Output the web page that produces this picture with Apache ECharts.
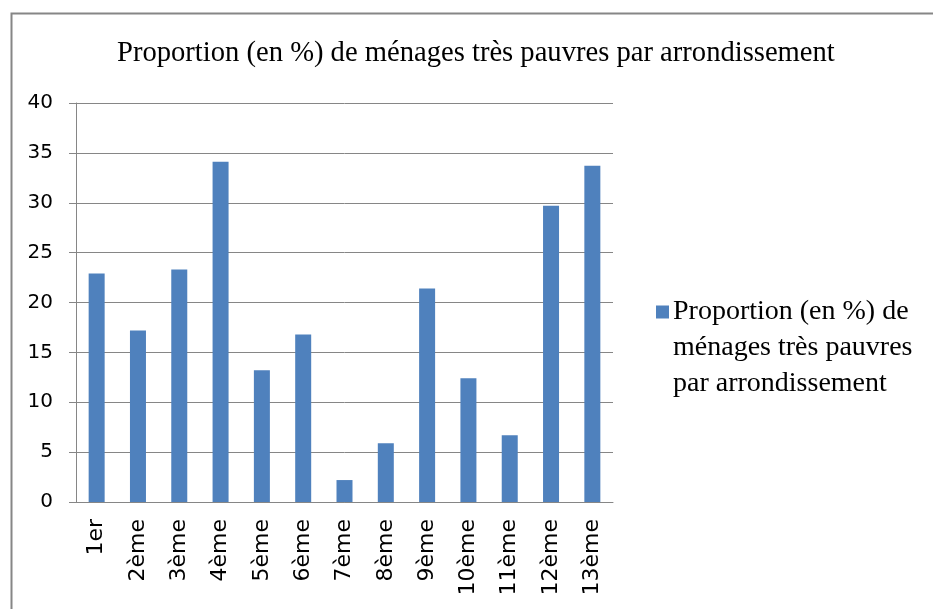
<!DOCTYPE html>
<html>
<head>
<meta charset="utf-8">
<script src="https://cdn.jsdelivr.net/npm/echarts@6/dist/echarts.min.js"></script>
<style>
  html, body { margin: 0; padding: 0; background: #fff; }
  #chart { width: 933px; height: 609px; }
</style>
</head>
<body>
<div id="chart"></div>
<script>
const titleText = 'Proportion (en %) de ménages très pauvres par arrondissement';
const categories = ['1er', '2ème', '3ème', '4ème', '5ème', '6ème', '7ème', '8ème', '9ème', '10ème', '11ème', '12ème', '13ème'];
const values = [22.9, 17.2, 23.3, 34.1, 13.2, 16.8, 2.2, 5.9, 21.4, 12.4, 6.7, 29.7, 33.7];
const legendLines = ['Proportion (en %) de', 'ménages très pauvres', 'par arrondissement'];

const chart = echarts.init(document.getElementById('chart'));

const option = {
    animation: false,
    backgroundColor: '#fff',
    title: {
        text: titleText,
        left: 117,
        top: 39,
        padding: 0,
        textStyle: { fontFamily: 'Liberation Serif', fontSize: 28.6, fontWeight: 'normal', color: '#000' }
    },
    // chart border, cut at the right and bottom like the original
    graphic: [{
        type: 'rect',
        left: 9,
        top: 11,
        shape: { width: 1000, height: 700 },
        style: { fill: 'none', stroke: '#868686', lineWidth: 2 },
        silent: true
    }],
    legend: {
        left: 651,
        top: 294,
        padding: 0,
        icon: 'none',
        itemWidth: 0,
        itemGap: 0,
        formatter: () => '{sq|}{first|' + legendLines[0] + '}\n{ind|' + legendLines[1] + '}\n{ind|' + legendLines[2] + '}',
        textStyle: {
            fontFamily: 'Liberation Serif',
            fontSize: 28,
            color: '#000',
            lineHeight: 36,
            rich: {
                sq: { width: 13, height: 13, backgroundColor: '#4F81BD' },
                first: { fontFamily: 'Liberation Serif', fontSize: 28, lineHeight: 36, color: '#000', padding: [0, 0, 0, 4] },
                ind: { fontFamily: 'Liberation Serif', fontSize: 28, lineHeight: 36, color: '#000', padding: [0, 0, 0, 17] }
            }
        }
    },
    grid: { left: 76, right: 320, top: 103, bottom: 107, containLabel: false },
    xAxis: {
        type: 'category',
        data: categories,
        axisLine: { lineStyle: { color: '#868686', width: 1 } },
        axisTick: { length: 9, lineStyle: { color: '#868686' } },
        axisLabel: {
            rotate: 90,
            margin: 17,
            fontFamily: 'DejaVu Sans',
            fontSize: 22,
            color: '#000'
        }
    },
    yAxis: {
        type: 'value',
        min: 0,
        max: 40,
        interval: 5,
        axisLine: { show: true, lineStyle: { color: '#868686', width: 1 } },
        axisTick: { show: true, length: 7, lineStyle: { color: '#868686' } },
        splitLine: { lineStyle: { color: '#868686', width: 1 } },
        axisLabel: { margin: 23, fontFamily: 'DejaVu Sans', fontSize: 20, color: '#000' }
    },
    series: [{
        name: titleText,
        type: 'bar',
        data: values,
        barWidth: 16,
        itemStyle: { color: '#4F81BD' }
    }]
};

chart.setOption(option);
</script>
</body>
</html>
